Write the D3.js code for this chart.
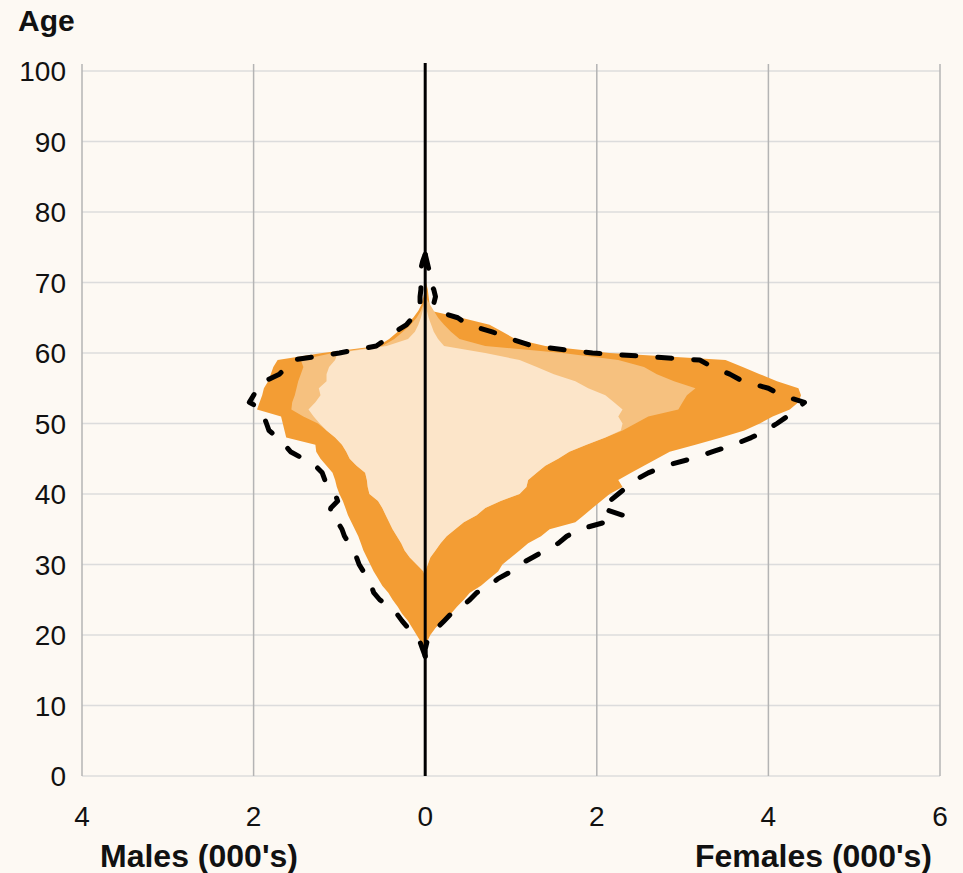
<!DOCTYPE html>
<html>
<head>
<meta charset="utf-8">
<script src="https://cdn.jsdelivr.net/npm/d3@7"></script>
<style>
  html, body { margin: 0; padding: 0; background: #fdf9f3; }
  svg { display: block; }
  text { font-family: "Liberation Sans", Arial, Helvetica, sans-serif; fill: #111; }
</style>
</head>
<body>
<svg id="chart" width="963" height="873"></svg>
<script>
// ---- data (values in thousands) ----
const ages = [17,18,19,20,21,22,23,24,25,26,27,28,29,30,31,32,33,34,35,36,37,38,39,40,41,42,43,44,45,
  46,47,48,49,50,51,52,53,54,55,56,57,58,59,60,61,62,63,64,65,66,67,68,69,70,71,72,73,74];

// outer (dark orange) layer
const malesDark = [0,0.02,0.05,0.1,0.15,0.2,0.27,0.32,0.38,0.43,0.5,0.55,0.6,0.64,0.68,0.72,0.75,0.78,0.82,0.86,
  0.9,0.93,0.96,1.0,1.03,1.05,1.08,1.15,1.22,1.27,1.28,1.62,1.64,1.66,1.68,1.96,1.93,1.9,1.88,1.83,1.8,1.77,1.72,
  1.2,0.55,0.42,0.32,0.22,0.14,0.08,0.04,0.02,0,0,0,0,0,0];
const femalesDark = [0,0,0.02,0.06,0.12,0.2,0.3,0.37,0.45,0.52,0.65,0.75,0.85,0.9,1.0,1.1,1.2,1.35,1.45,1.75,
  1.85,1.95,2.05,2.15,2.3,2.25,2.4,2.55,2.7,2.85,3.15,3.45,3.72,3.9,4.05,4.25,4.35,4.38,4.35,4.1,3.9,3.7,3.5,
  2.15,1.4,1.05,0.9,0.75,0.42,0.06,0.05,0.04,0.03,0.01,0,0,0,0];

// middle layer
const malesMid = [0,0,0,0,0,0,0,0,0,0,0,0,0.02,0.1,0.18,0.24,0.28,0.33,0.38,0.42,0.46,0.5,0.55,0.65,0.67,0.68,
  0.7,0.8,0.88,0.92,0.97,1.05,1.15,1.25,1.42,1.56,1.55,1.52,1.5,1.48,1.45,1.42,1.45,1.08,0.5,0.36,0.26,0.17,
  0.1,0.05,0.02,0,0,0,0,0,0,0];
const femalesMid = [0,0,0,0,0,0,0,0,0,0,0,0,0,0.03,0.06,0.12,0.18,0.25,0.35,0.45,0.6,0.7,0.88,1.1,1.18,1.2,
  1.3,1.4,1.55,1.68,1.88,2.1,2.3,2.45,2.6,2.95,3.0,3.05,3.15,2.9,2.7,2.55,2.25,1.6,0.7,0.4,0.3,0.22,0.15,0.1,
  0.05,0,0,0,0,0,0,0];

// inner (light) layer
const malesLight = [0,0,0,0,0,0,0,0,0,0,0,0,0.02,0.1,0.18,0.24,0.28,0.33,0.38,0.42,0.46,0.5,0.55,0.65,0.67,
  0.68,0.7,0.8,0.88,0.92,0.97,1.05,1.15,1.23,1.3,1.36,1.28,1.22,1.24,1.15,1.15,1.12,1.05,1.02,0.45,0.2,0.12,
  0.08,0.05,0.03,0.01,0,0,0,0,0,0,0];
const femalesLight = [0,0,0,0,0,0,0,0,0,0,0,0,0,0.03,0.06,0.12,0.18,0.25,0.35,0.45,0.6,0.7,0.88,1.1,1.18,1.2,
  1.3,1.4,1.55,1.68,1.88,2.1,2.28,2.3,2.25,2.3,2.2,2.1,1.9,1.75,1.5,1.3,1.1,0.7,0.22,0.15,0.1,0.07,0.04,0.02,
  0,0,0,0,0,0,0,0];

// dashed comparison outline
const malesDashed = [0,0.03,0.06,0.12,0.2,0.27,0.33,0.42,0.53,0.6,0.63,0.68,0.72,0.77,0.8,0.84,0.89,0.94,0.97,
  1.02,1.12,1.1,1.02,1.05,1.12,1.17,1.2,1.28,1.42,1.57,1.64,1.72,1.82,1.85,1.88,1.9,2.05,2.0,1.96,1.87,1.7,
  1.62,1.55,1.0,0.57,0.45,0.35,0.22,0.15,0.11,0.06,0.06,0.05,0.05,0.06,0.05,0.03,0];
const femalesDashed = [0,0,0.02,0.06,0.14,0.22,0.3,0.42,0.52,0.6,0.75,0.85,1.0,1.1,1.25,1.4,1.55,1.65,1.8,2.1,
  2.3,2.05,2.15,2.25,2.35,2.45,2.6,2.8,3.1,3.35,3.6,3.8,3.97,4.1,4.22,4.33,4.42,4.15,4.0,3.7,3.55,3.35,3.2,
  1.95,1.25,1.0,0.78,0.5,0.38,0.12,0.1,0.12,0.1,0.05,0.06,0.04,0.02,0];

const xTicks = [-4,-2,0,2,4,6];
const yTicks = [0,10,20,30,40,50,60,70,80,90,100];
const layerColors = ["#f39d34", "#f6c17f", "#fce5c9"];

// ---- chart ----
const svg = d3.select("#chart");
const mLeft = 82, mRight = 940, mTop = 71, mBottom = 776;

const x = d3.scaleLinear().domain([-4, 6]).range([mLeft, mRight]);
const y = d3.scaleLinear().domain([0, 100]).range([mBottom, mTop]);

svg.append("rect").attr("width", 963).attr("height", 873).attr("fill", "#fdf9f3");

// horizontal grid
svg.append("g").selectAll("line").data(yTicks).join("line")
  .attr("x1", mLeft).attr("x2", mRight)
  .attr("y1", d => y(d)).attr("y2", d => y(d))
  .attr("stroke", "#dcdcdc").attr("stroke-width", 1.5);

// vertical grid
svg.append("g").selectAll("line").data(xTicks).join("line")
  .attr("x1", d => x(d)).attr("x2", d => x(d))
  .attr("y1", mTop - 7).attr("y2", mBottom)
  .attr("stroke", "#b4b4b4").attr("stroke-width", 1.5);

// areas
const layers = [
  {m: malesDark, f: femalesDark},
  {m: malesMid, f: femalesMid},
  {m: malesLight, f: femalesLight}
];
const area = d3.area()
  .y((d, i) => y(ages[i]))
  .x0(d => x(-d[0]))
  .x1(d => x(d[1]));

layers.forEach((L, k) => {
  const pts = ages.map((a, i) => [L.m[i], L.f[i]]);
  svg.append("path").datum(pts)
    .attr("d", area)
    .attr("fill", layerColors[k]);
});

// zero axis line
svg.append("line")
  .attr("x1", x(0)).attr("x2", x(0))
  .attr("y1", mTop - 8).attr("y2", mBottom)
  .attr("stroke", "#000").attr("stroke-width", 3);

// dashed outlines
const line = d3.line().x(d => x(d[0])).y(d => y(d[1]));
[ages.map((a, i) => [-malesDashed[i], a]), ages.map((a, i) => [femalesDashed[i], a])].forEach(pts => {
  svg.append("path").datum(pts)
    .attr("d", line)
    .attr("fill", "none")
    .attr("stroke", "#000")
    .attr("stroke-width", 5)
    .attr("stroke-linecap", "round")
    .attr("stroke-linejoin", "round")
    .attr("stroke-dasharray", "14,22");
});

// y tick labels
svg.append("g").selectAll("text").data(yTicks).join("text")
  .attr("x", 66).attr("y", d => y(d) + 10)
  .attr("text-anchor", "end")
  .style("font-size", "28px")
  .text(d => d);

// x tick labels
svg.append("g").selectAll("text").data(xTicks).join("text")
  .attr("x", d => x(d)).attr("y", 826)
  .attr("text-anchor", "middle")
  .style("font-size", "28px")
  .text(d => Math.abs(d));

// titles
svg.append("text").attr("x", 18).attr("y", 31)
  .style("font-size", "30px").style("font-weight", "bold").text("Age");
svg.append("text").attr("x", 100).attr("y", 867)
  .style("font-size", "32px").style("font-weight", "bold").text("Males (000's)");
svg.append("text").attr("x", 932).attr("y", 867).attr("text-anchor", "end")
  .style("font-size", "32px").style("font-weight", "bold").text("Females (000's)");
</script>
</body>
</html>
